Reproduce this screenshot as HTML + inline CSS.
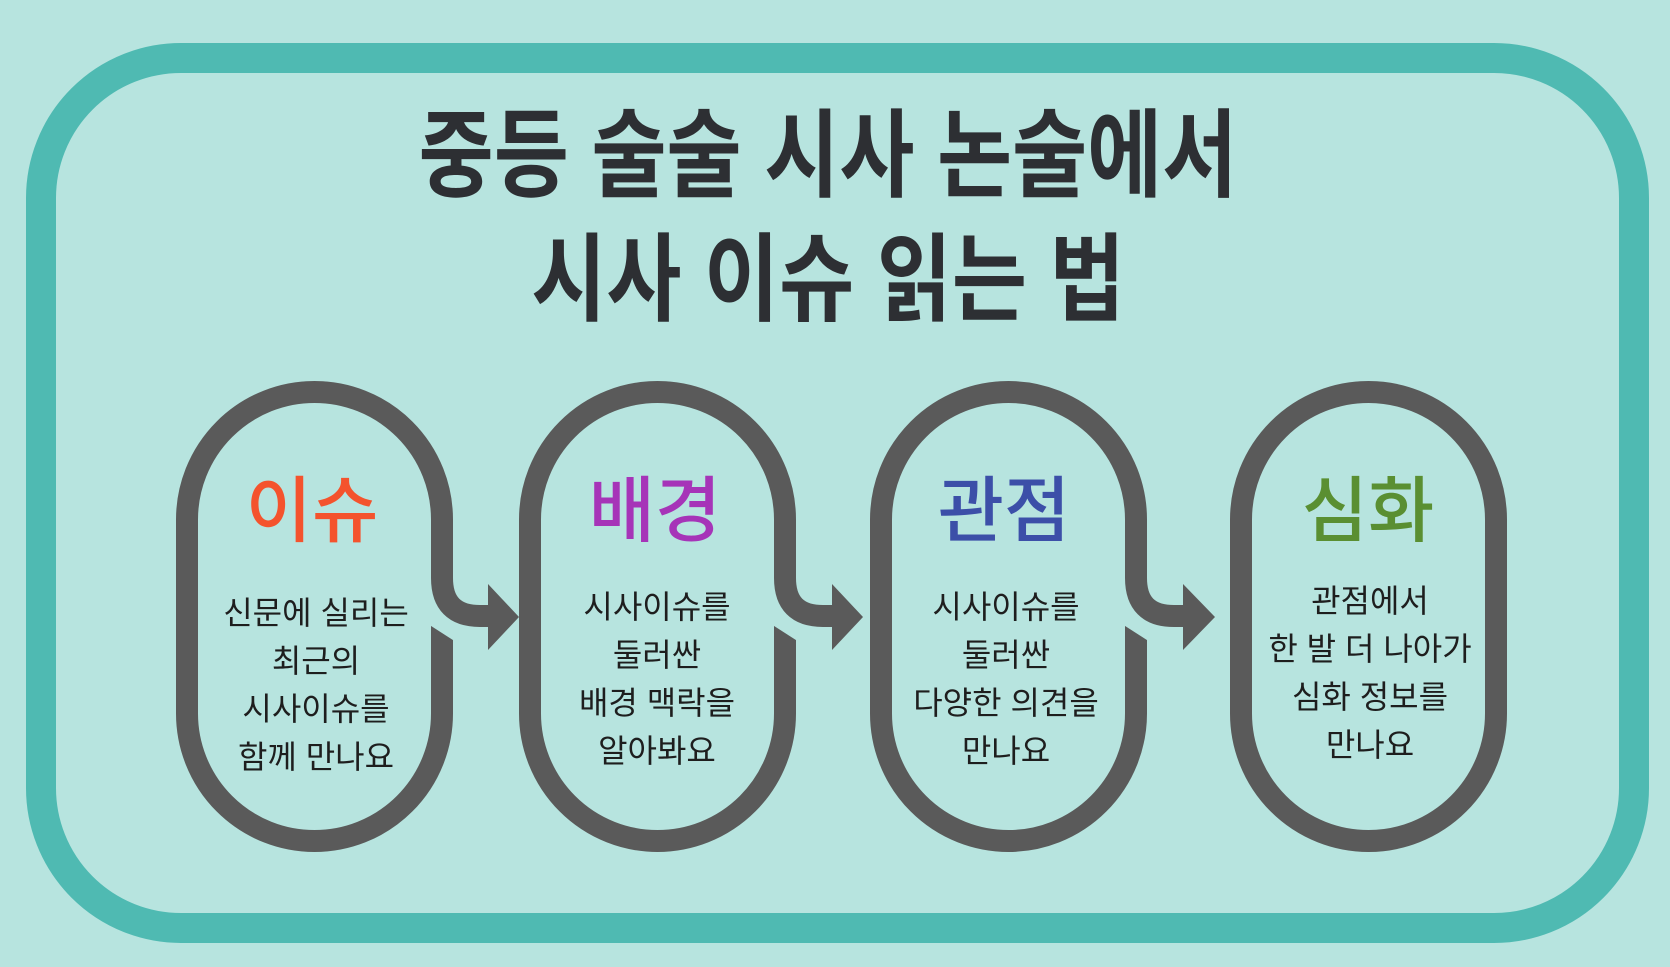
<!DOCTYPE html>
<html><head><meta charset="utf-8"><style>
html,body{margin:0;padding:0;background:#b7e4df;}
svg{display:block;}
text{font-family:"Liberation Sans","Noto Sans CJK KR",sans-serif;}
</style></head><body>
<svg width="1670" height="967" viewBox="0 0 1670 967" xmlns="http://www.w3.org/2000/svg">
<rect width="1670" height="967" fill="#b7e4df"/>
<rect x="41" y="58" width="1593" height="870" rx="140" fill="none" stroke="#4fbab2" stroke-width="30"/>
<g fill="#2d2f33" font-weight="700" text-anchor="middle">
<text x="828" y="189" font-size="96" transform="translate(828 0) scale(0.85 1) translate(-828 0)">중등 술술 시사 논술에서</text>
<text x="828" y="313" font-size="96" transform="translate(828 0) scale(0.85 1) translate(-828 0)">시사 이슈 읽는 법</text>
</g>
<g fill="none" stroke="#5a5a5a" stroke-width="22">
<rect x="187" y="392" width="255" height="449" rx="127.5"/>
<rect x="530" y="392" width="255" height="449" rx="127.5"/>
<rect x="881" y="392" width="255" height="449" rx="127.5"/>
<rect x="1241" y="392" width="255" height="449" rx="127.5"/>
</g>
<g fill="#b7e4df">
<polygon points="428,575 456,575 456,642 428,624"/>
<polygon points="771,575 799,575 799,642 771,624"/>
<polygon points="1122,575 1150,575 1150,642 1122,624"/>
</g>
<g fill="none" stroke="#5a5a5a" stroke-width="22">
<path d="M442,560 L442,578 Q442,616 480,616 L492,616"/>
<path d="M785,560 L785,578 Q785,616 823,616 L837,616"/>
<path d="M1136,560 L1136,578 Q1136,616 1174,616 L1188,616"/>
</g>
<g fill="#5a5a5a">
<polygon points="488,584 519,617 488,650"/>
<polygon points="832,584 863,617 832,650"/>
<polygon points="1183,584 1215,617 1183,650"/>
</g>
<g font-size="72" font-weight="500" text-anchor="middle">
<text x="312" y="536" fill="#f4532d">이슈</text>
<text x="655" y="536" fill="#a634b8">배경</text>
<text x="1004" y="536" fill="#3c4fa8">관점</text>
<text x="1368" y="536" fill="#5a8f32">심화</text>
</g>
<g font-size="32" fill="#1e1e1e" text-anchor="middle">
<text x="316" y="624">신문에 실리는</text>
<text x="316" y="672">최근의</text>
<text x="316" y="720">시사이슈를</text>
<text x="316" y="768">함께 만나요</text>
<text x="657" y="618">시사이슈를</text>
<text x="657" y="666">둘러싼</text>
<text x="657" y="714">배경 맥락을</text>
<text x="657" y="762">알아봐요</text>
<text x="1006" y="618">시사이슈를</text>
<text x="1006" y="666">둘러싼</text>
<text x="1006" y="714">다양한 의견을</text>
<text x="1006" y="762">만나요</text>
<text x="1370" y="612">관점에서</text>
<text x="1370" y="660">한 발 더 나아가</text>
<text x="1370" y="708">심화 정보를</text>
<text x="1370" y="756">만나요</text>
</g>
</svg>
</body></html>
